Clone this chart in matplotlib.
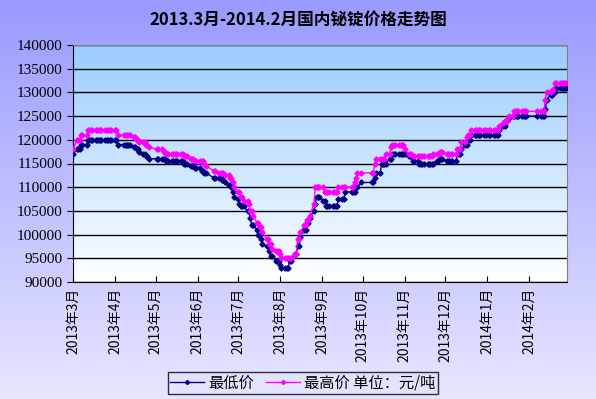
import numpy as np
import pandas as pd
import matplotlib
matplotlib.use("Agg")
import matplotlib.pyplot as plt
from matplotlib.colors import LinearSegmentedColormap

plt.rcParams['font.family'] = ['Noto Sans CJK SC', 'DejaVu Sans']

# price change log: date, lowest, highest (yuan/ton)
chg_dates = ["2013-03-01", "2013-03-04", "2013-03-07", "2013-03-12", "2013-04-03",
             "2013-04-15", "2013-04-17", "2013-04-19", "2013-04-22", "2013-04-24",
             "2013-04-26", "2013-05-02", "2013-05-07", "2013-05-09", "2013-05-22",
             "2013-05-27", "2013-05-30", "2013-06-04", "2013-06-06", "2013-06-07",
             "2013-06-13", "2013-06-17", "2013-06-19", "2013-06-21", "2013-06-24",
             "2013-06-25", "2013-06-26", "2013-06-27", "2013-06-28", "2013-07-01",
             "2013-07-02", "2013-07-03", "2013-07-05", "2013-07-08", "2013-07-09",
             "2013-07-10", "2013-07-11", "2013-07-12", "2013-07-15", "2013-07-16",
             "2013-07-17", "2013-07-18", "2013-07-19", "2013-07-22", "2013-07-24",
             "2013-07-25", "2013-07-26", "2013-07-29", "2013-08-01", "2013-08-02",
             "2013-08-08", "2013-08-12", "2013-08-14", "2013-08-16", "2013-08-19",
             "2013-08-21", "2013-08-23", "2013-08-26", "2013-08-27", "2013-08-28",
             "2013-09-02", "2013-09-03", "2013-09-04", "2013-09-13", "2013-09-18",
             "2013-09-25", "2013-09-26", "2013-09-27", "2013-09-30", "2013-10-10",
             "2013-10-11", "2013-10-15", "2013-10-18", "2013-10-21", "2013-10-22",
             "2013-10-23", "2013-11-01", "2013-11-04", "2013-11-07", "2013-11-12",
             "2013-11-22", "2013-11-25", "2013-11-27", "2013-12-02", "2013-12-10",
             "2013-12-13", "2013-12-16", "2013-12-17", "2013-12-18", "2013-12-20",
             "2014-01-10", "2014-01-13", "2014-01-14", "2014-01-15", "2014-01-17",
             "2014-01-20", "2014-01-21", "2014-02-13", "2014-02-14", "2014-02-17",
             "2014-02-18", "2014-02-19", "2014-02-20", "2014-02-21"]
chg_low = [117000, 118000, 119000, 120000, 119000,
           118500, 118000, 117500, 117000, 116500,
           116000, 116000, 116000, 115500, 115000,
           114500, 114000, 113500, 113000, 113000,
           112000, 112000, 111500, 111000, 110500,
           110500, 110000, 109000, 108000, 107500,
           106500, 106000, 106000, 105000, 105000,
           103500, 102000, 102000, 101000, 100000,
           100000, 99000, 98000, 97500, 96500,
           95500, 95500, 94500, 93500, 93000,
           94500, 96000, 97500, 99500, 101000,
           102500, 103500, 105000, 106500, 108000,
           107000, 107000, 106000, 107500, 109000,
           109000, 110000, 110000, 111000, 112000,
           113000, 115000, 115000, 116000, 116000,
           117000, 117000, 116500, 115500, 115000,
           115000, 115500, 116000, 115500, 117000,
           118000, 119000, 119000, 120000, 121000,
           122000, 123000, 123000, 124000, 124500,
           125000, 125000, 126500, 128500, 129500,
           129500, 130000, 130000, 131000]
chg_high = [118000, 120000, 121000, 122000, 121000,
            120500, 120000, 119500, 119500, 119000,
            118500, 118000, 117500, 117000, 116500,
            116000, 115500, 115500, 115000, 114500,
            113500, 113000, 113000, 112500, 112500,
            112000, 112000, 111000, 110000, 109000,
            109000, 108000, 107000, 107000, 106500,
            105000, 105000, 104000, 102500, 102500,
            101500, 101500, 100500, 99000, 98000,
            98000, 97000, 96500, 96000, 95000,
            95000, 96000, 99000, 100500, 102000,
            103000, 104000, 106500, 110000, 110000,
            110000, 109000, 109000, 110000, 110000,
            111000, 112000, 113000, 113000, 115000,
            116000, 116000, 117000, 117000, 118500,
            119000, 118000, 117000, 116500, 116500,
            117000, 117000, 117500, 117000, 118000,
            119500, 119500, 120500, 121000, 122000,
            123000, 123500, 124000, 124000, 125000,
            125000, 126000, 128500, 130000, 130000,
            130500, 130500, 132000, 132000]

# market closed on these days (Chinese holidays)
holidays = ["2013-04-04", "2013-04-05", "2013-04-29", "2013-04-30", "2013-05-01",
            "2013-06-10", "2013-06-11", "2013-06-12", "2013-09-19", "2013-09-20",
            "2013-10-01", "2013-10-02", "2013-10-03", "2013-10-04", "2013-10-07",
            "2014-01-01", "2014-01-31", "2014-02-03", "2014-02-04", "2014-02-05",
            "2014-02-06"]

month_ticks = pd.date_range("2013-03-01", "2014-02-01", freq="MS")
tick_labels = [f"{d.year}年{d.month}月" for d in month_ticks]

# daily quote table: each quote holds until the next change
days = pd.bdate_range("2013-03-01", "2014-02-28")
days = days[~days.isin(pd.to_datetime(holidays))]
log = pd.DataFrame({"low": chg_low, "high": chg_high}, index=pd.to_datetime(chg_dates))
daily = log.reindex(days, method="ffill")

W, H = 596, 399
fig = plt.figure(figsize=(W / 100, H / 100), dpi=100)

# figure background gradient
bg = fig.add_axes([0, 0, 1, 1], zorder=-10)
bg_cmap = LinearSegmentedColormap.from_list("bg", ["#9a9aff", "#e6e6ff"])
bg.imshow(np.linspace(0, 1, 256).reshape(-1, 1), cmap=bg_cmap, aspect="auto",
          extent=[0, 1, 0, 1])
bg.set_axis_off()

ax = fig.add_axes([73 / W, 1 - 282 / H, (567 - 73) / W, (282 - 45) / H])
ax.set_facecolor("none")
pa_cmap = LinearSegmentedColormap.from_list("pa", ["#99ccff", "#ffffff"])
ax.imshow(np.linspace(0, 1, 256).reshape(-1, 1), cmap=pa_cmap, aspect="auto",
          extent=[0, 1, 0, 1], transform=ax.transAxes, zorder=0)

ax.plot(daily.index, daily["low"], color="#000080", lw=1, marker="D", ms=2.6,
        label="最低价", zorder=3)
ax.plot(daily.index, daily["high"], color="#ff00ff", lw=1, marker="D", ms=2.6,
        label="最高价 单位：元/吨", zorder=4)

ax.set_xlim(pd.Timestamp("2013-03-01"), pd.Timestamp("2014-03-01"))
ax.set_ylim(90000, 140000)
ax.set_yticks(np.arange(90000, 140001, 5000))
ax.yaxis.grid(True, color="black", lw=1)
for gl in ax.get_ygridlines():
    gl.set_zorder(1)

ax.set_xticks(month_ticks)
ax.set_xticklabels(tick_labels, rotation=90, fontsize=10)
ax.tick_params(axis="x", direction="in", length=4, pad=4)
ax.tick_params(axis="y", direction="out", length=4)
for lab in ax.get_yticklabels():
    lab.set_family(["Liberation Serif", "DejaVu Serif"])
    lab.set_fontsize(11)

ax.spines["left"].set_color("black")
ax.spines["bottom"].set_color("black")
ax.spines["top"].set_color("#808080")
ax.spines["right"].set_color("#808080")

fig.text(0.5, 1 - 20 / H, "2013.3月-2014.2月国内铋锭价格走势图", ha="center",
         va="center", fontsize=12, fontweight="bold")

leg = fig.legend(loc="center", bbox_to_anchor=(303 / W, 1 - 383 / H), ncol=2,
                 frameon=True, fancybox=False, fontsize=11, handlelength=2.2,
                 handletextpad=0.3, columnspacing=0.8, borderpad=0.15,
                 markerscale=0.8)
leg.get_frame().set_edgecolor("black")
leg.get_frame().set_facecolor("none")
leg.get_frame().set_linewidth(1)

fig.savefig("out.png", dpi=100)
